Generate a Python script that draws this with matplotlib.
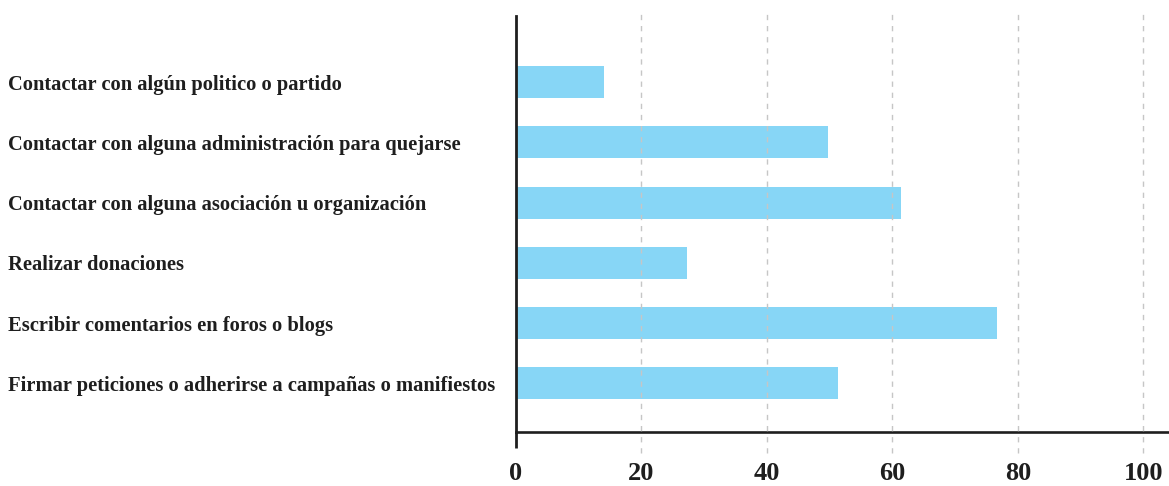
import matplotlib
matplotlib.use("Agg")
import matplotlib.pyplot as plt
import matplotlib.transforms as mtransforms
import warnings

warnings.filterwarnings("ignore")

categories = [
    "Contactar con algún politico o partido",
    "Contactar con alguna administración para quejarse",
    "Contactar con alguna asociación u organización",
    "Realizar donaciones",
    "Escribir comentarios en foros o blogs",
    "Firmar peticiones o adherirse a campañas o manifiestos",
]
values = [14.0, 49.8, 61.4, 27.3, 76.7, 51.3]
xticks = [0, 20, 40, 60, 80, 100]

FAMILY = ["Liberation Serif", "DejaVu Serif"]
TEXT_COLOR = "#1e1e1e"
BAR_COLOR = "#87d6f6"

W, H, DPI = 1169, 486, 100
fig = plt.figure(figsize=(W / DPI, H / DPI), dpi=DPI)
ax = fig.add_axes([516 / W, 1 - 432 / H, 1 - 516 / W, (432 - 16) / H])

pos = list(range(len(categories)))
ax.barh(pos, values, height=0.53, color=BAR_COLOR, zorder=2)

ax.set_xlim(0, 104.1)
ax.set_ylim(5.81, -1.1)

# dashed vertical grid, drawn over bars and extended below the axis line
blend = mtransforms.blended_transform_factory(ax.transData, ax.transAxes)
for t in xticks[1:]:
    ax.plot([t, t], [-0.05, 1.01], transform=blend, color="#c6c6c6",
            lw=1.0, ls=(0, (3.8, 4.2)), clip_on=False, zorder=3)

for side in ("top", "right"):
    ax.spines[side].set_visible(False)
ax.spines["left"].set_linewidth(2.0)
ax.spines["left"].set_color(TEXT_COLOR)
ax.spines["bottom"].set_linewidth(1.9)
ax.spines["bottom"].set_color(TEXT_COLOR)
# left axis line continues a little below the bottom axis
ax.plot([0, 0], [-0.038, 0], transform=blend, color=TEXT_COLOR, lw=2.0,
        clip_on=False, zorder=4, solid_capstyle="butt")

ax.set_xticks(xticks)
ax.set_xticklabels([str(t) for t in xticks], family=FAMILY,
                   fontweight="bold", fontsize=19, color=TEXT_COLOR)
ax.tick_params(axis="x", length=0, pad=21.5)

ax.set_yticks(pos)
ax.set_yticklabels(categories, family=FAMILY, fontweight="bold",
                   fontsize=16, color=TEXT_COLOR, ha="left")
ax.tick_params(axis="y", length=0, pad=(516 - 8) * 72 / DPI)

# size the category labels so the longest one spans the label column
fig.canvas.draw()
renderer = fig.canvas.get_renderer()
labels = ax.get_yticklabels()
widest = max(l.get_window_extent(renderer).width for l in labels)
target = 496 - 8
new_size = 16 * target / widest
for l in labels:
    l.set_fontsize(new_size)

fig.savefig("out.png", dpi=DPI, facecolor="white")
